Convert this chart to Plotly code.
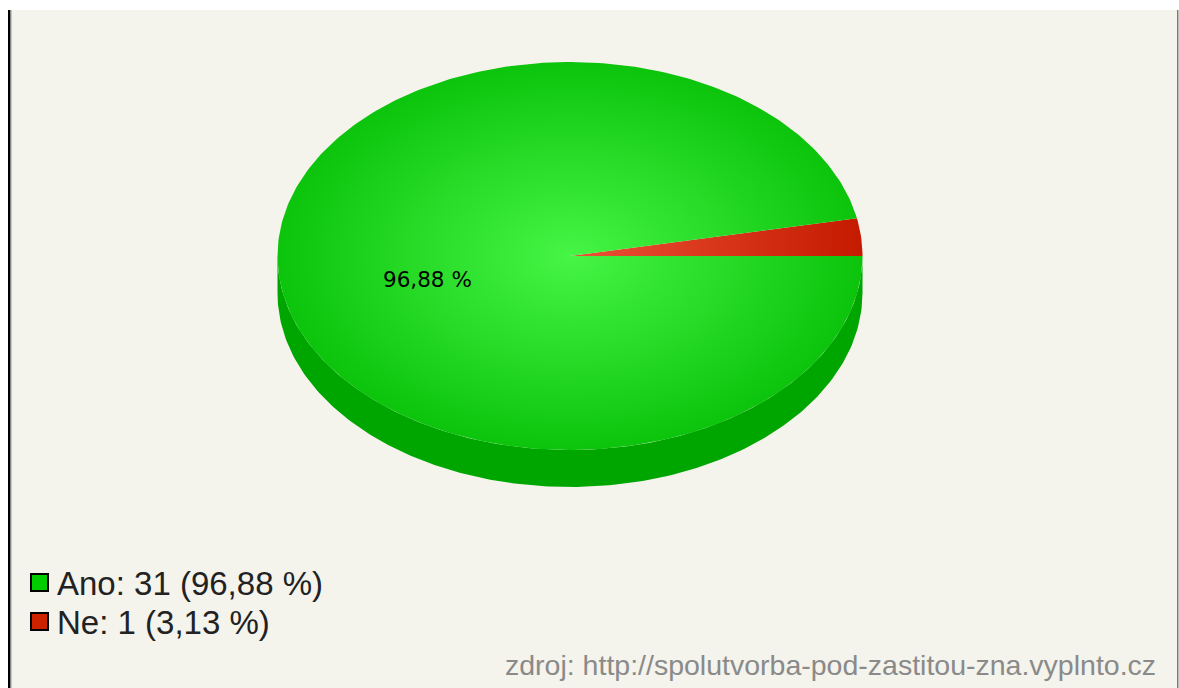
import numpy as np
from decimal import Decimal, ROUND_HALF_UP
import plotly.graph_objects as go

# ---- data ----
categories = ["Ano", "Ne"]
values = [31, 1]
colors_top = [["#46f546", "#0cc40c"], ["#ec5236", "#c41a00"]]
legend_colors = ["#00cc00", "#cc2200"]
side_color = "#00a600"
source_text = "zdroj: http://spolutvorba-pod-zastitou-zna.vyplnto.cz"

W, H = 1179, 688
cx, cy = 570, 256
rx, ry = 292.5, 194
depth = 37

total = sum(values)
pcts = [Decimal(v) * 100 / Decimal(total) for v in values]

def fmt(p):
    return str(p.quantize(Decimal("0.01"), rounding=ROUND_HALF_UP)).replace(".", ",")

fig = go.Figure()

# side of the pie (front half visible)
t = np.linspace(np.pi, 2 * np.pi, 200)
xs_top = cx + rx * np.cos(t)
ys_top = cy - ry * np.sin(t)
xs_bot = xs_top[::-1]
ys_bot = (cy + depth) - ry * np.sin(t[::-1])
fig.add_trace(go.Scatter(
    x=np.concatenate([xs_top, xs_bot]), y=np.concatenate([ys_top, ys_bot]),
    fill="toself", fillcolor=side_color, mode="lines", line=dict(width=0),
    hoverinfo="skip", showlegend=False))

# top slices: "Ne" starts at angle 0 counter-clockwise, "Ano" follows
order = [1, 0]
start = 0.0
for i in order:
    frac = values[i] / total
    a0, a1 = start, start + frac * 2 * np.pi
    start = a1
    tt = np.linspace(a0, a1, max(3, int(400 * frac)))
    xs = np.concatenate([[cx], cx + rx * np.cos(tt), [cx]])
    ys = np.concatenate([[cy], cy - ry * np.sin(tt), [cy]])
    grad = dict(type="radial" if i == 0 else "horizontal",
                colorscale=[[0, colors_top[i][0]], [1, colors_top[i][1]]])
    fig.add_trace(go.Scatter(
        x=xs, y=ys, fill="toself", fillgradient=grad, mode="lines",
        line=dict(width=0), hoverinfo="skip", showlegend=False))
    if frac > 0.1:
        am = (a0 + a1) / 2
        fig.add_annotation(x=cx + 0.49 * rx * np.cos(am), y=cy - 0.49 * ry * np.sin(am) + 14,
                           text=f"{fmt(pcts[i])} %", showarrow=False,
                           font=dict(family="DejaVu Sans", size=21.5, color="#000000"))

# legend
for k, (c, v, p) in enumerate(zip(categories, values, pcts)):
    y0 = 583 + k * 39
    fig.add_shape(type="rect", x0=31, x1=48, y0=y0 - 9, y1=y0 + 8,
                  fillcolor=legend_colors[k], line=dict(color="#000000", width=2), layer="above")
    fig.add_annotation(x=55, y=y0, xanchor="left", yanchor="middle",
                       text=f"{c}: {v} ({fmt(p)} %)", showarrow=False,
                       font=dict(family="Liberation Sans", size=33, color="#222222"))

fig.add_annotation(x=1158, y=665, xanchor="right", yanchor="middle", text=source_text,
                   showarrow=False, font=dict(family="Liberation Sans", size=28.5, color="#8a8a8a"))

# background frame
fig.add_shape(type="rect", x0=10, x1=1177, y0=10, y1=H, fillcolor="#f4f3ec",
              line=dict(width=0), layer="below")
fig.add_shape(type="rect", x0=8, x1=10.5, y0=10, y1=H, fillcolor="#000000",
              line=dict(width=0), layer="below")
fig.add_shape(type="rect", x0=10.5, x1=11.5, y0=10, y1=H, fillcolor="#9a9a9a",
              line=dict(width=0), layer="below")
fig.add_shape(type="rect", x0=1177, x1=1178.5, y0=10, y1=H, fillcolor="#7a7a7a",
              line=dict(width=0), layer="below")

fig.update_layout(
    width=W, height=H, margin=dict(l=0, r=0, t=0, b=0),
    paper_bgcolor="#ffffff", plot_bgcolor="rgba(0,0,0,0)",
    xaxis=dict(range=[0, W], visible=False, fixedrange=True),
    yaxis=dict(range=[H, 0], visible=False, fixedrange=True),
    showlegend=False,
)
fig.write_html("out.html")
